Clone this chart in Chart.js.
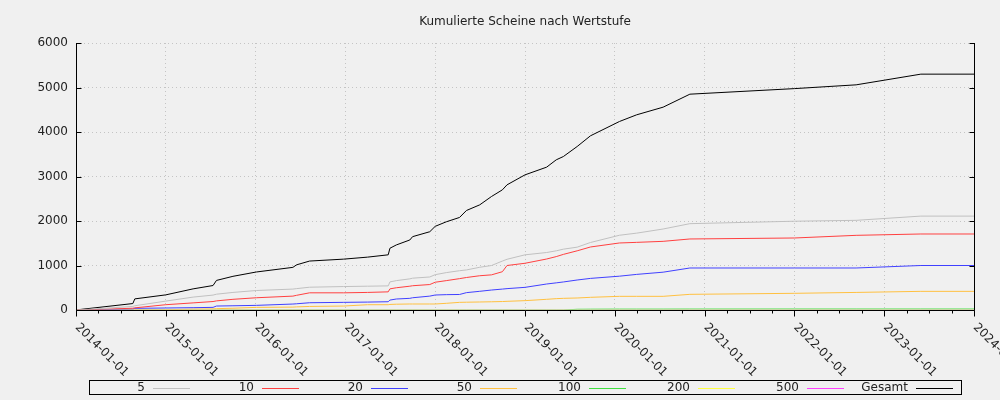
<!DOCTYPE html>
<html lang="de">
<head>
  <meta charset="UTF-8">
  <title>Kumulierte Scheine nach Wertstufe</title>
  <script src="https://cdn.jsdelivr.net/npm/chart.js"></script>
  <style>
    body {
      margin: 0;
      background: #f0f0f0;
    }
    #wrap {
      width: 1000px;
      height: 400px;
    }
  </style>
</head>
<body>
  <div id="wrap"><canvas id="chart" width="1000" height="400"></canvas></div>

  <script>
    const chartTitle = 'Kumulierte Scheine nach Wertstufe';

    // common sampling dates
    const dates = [
      '2014-01-01', '2014-01-23', '2014-08-20', '2014-08-28', '2015-01-01',
      '2015-04-22', '2015-07-12', '2015-07-26', '2015-10-01', '2016-01-04',
      '2016-06-01', '2016-06-16', '2016-08-08', '2016-12-25', '2017-04-01',
      '2017-06-24', '2017-07-01', '2017-07-27', '2017-09-20', '2017-10-01',
      '2017-12-10', '2018-01-01', '2018-02-15', '2018-04-10', '2018-05-08',
      '2018-07-01', '2018-08-18', '2018-10-01', '2018-10-20', '2019-01-01',
      '2019-03-30', '2019-05-08', '2019-06-06', '2019-08-01', '2019-09-24',
      '2020-01-20', '2020-03-30', '2020-07-16', '2020-11-02', '2022-01-01',
      '2022-09-09', '2023-05-30', '2024-01-01'
    ];

    const seriesNames = ['5', '10', '20', '50', '100', '200', '500', 'Gesamt'];
    const seriesColors = ['#c0c0c0', '#ff4040', '#4040ff', '#ffc040', '#40e040', '#ffff40', '#ff40ff', '#000000'];

    const values5 = [0, 5, 80, 95, 200, 290, 335, 355, 395, 438, 470, 480, 512, 527, 535, 542, 631, 660, 700, 715, 742, 794, 840, 883, 900, 960, 1000, 1100, 1140, 1240, 1292, 1330, 1367, 1412, 1517, 1680, 1727, 1820, 1940, 1995, 2015, 2110, 2110];
    const values10 = [0, 0, 40, 48, 119, 160, 190, 205, 240, 275, 312, 330, 386, 386, 395, 408, 475, 500, 535, 545, 572, 624, 660, 705, 730, 770, 790, 860, 1000, 1050, 1146, 1200, 1250, 1330, 1416, 1506, 1520, 1543, 1596, 1618, 1678, 1708, 1708];
    const values20 = [0, 0, 20, 37, 45, 52, 59, 89, 95, 104, 134, 140, 163, 172, 178, 186, 223, 247, 262, 275, 312, 337, 345, 349, 390, 420, 449, 470, 480, 509, 584, 610, 630, 674, 710, 760, 800, 850, 944, 944, 944, 1000, 1000];
    const values50 = [0, 0, 0, 0, 5, 20, 25, 30, 40, 59, 65, 70, 80, 89, 119, 119, 125, 130, 135, 135, 135, 135, 150, 172, 175, 180, 185, 190, 195, 210, 240, 255, 262, 270, 285, 307, 307, 307, 352, 375, 395, 419, 419];
    const values100 = [0, 0, 0, 0, 0, 0, 0, 0, 0, 0, 0, 0, 0, 0, 0, 0, 0, 0, 0, 0, 0, 0, 0, 0, 0, 0, 0, 0, 0, 0, 0, 0, 0, 16, 18, 20, 20, 20, 21, 22, 22, 22, 22];
    const values200 = [0, 0, 0, 0, 0, 0, 0, 0, 0, 0, 0, 0, 0, 0, 0, 0, 0, 0, 0, 0, 0, 0, 0, 0, 0, 0, 0, 0, 0, 0, 0, 0, 0, 0, 0, 0, 0, 0, 0, 0, 0, 0, 0];
    const values500 = [0, 0, 0, 0, 0, 0, 0, 0, 0, 0, 0, 0, 0, 0, 0, 0, 0, 0, 0, 0, 0, 0, 0, 0, 0, 0, 0, 0, 0, 0, 0, 0, 0, 0, 0, 0, 0, 0, 0, 0, 0, 0, 0];
    const valuesGesamt = [0, 15, 145, 250, 340, 475, 550, 665, 757, 854, 958, 1015, 1100, 1143, 1188, 1240, 1388, 1462, 1574, 1648, 1759, 1880, 1982, 2080, 2236, 2363, 2551, 2700, 2813, 3037, 3210, 3375, 3449, 3674, 3914, 4236, 4386, 4558, 4850, 4975, 5060, 5300, 5300];

    const allValues = [values5, values10, values20, values50, values100, values200, values500, valuesGesamt];

    const yTicks = [0, 1000, 2000, 3000, 4000, 5000, 6000];
    const xTickYears = [2014, 2015, 2016, 2017, 2018, 2019, 2020, 2021, 2022, 2023, 2024];

    // date string -> fractional year
    function toYear(s) {
      const d = new Date(s + 'T00:00:00Z');
      const y = d.getUTCFullYear();
      const start = Date.UTC(y, 0, 1), end = Date.UTC(y + 1, 0, 1);
      return y + (d - start) / (end - start);
    }

    Chart.defaults.font.family = '"DejaVu Sans", sans-serif';
    Chart.defaults.font.size = 12;
    Chart.defaults.color = '#222';

    // axes frame, ticks, rotated date labels, title and legend
    const framePlugin = {
      id: 'frame',
      afterDraw(chart) {
        const ctx = chart.ctx;
        const a = chart.chartArea;
        const xs = chart.scales.x, ys = chart.scales.y;
        const L = Math.round(a.left) + 0.5;
        const R = Math.round(a.right) + 0.5;
        const T = Math.round(a.top);
        const B = Math.round(a.bottom) + 0.5;

        ctx.save();
        ctx.strokeStyle = '#000';
        ctx.lineWidth = 1;
        ctx.beginPath();
        ctx.moveTo(L, T); ctx.lineTo(L, B); ctx.lineTo(R, B); ctx.lineTo(R, T);
        yTicks.forEach(v => {
          const y = Math.round(ys.getPixelForValue(v)) + 0.5;
          ctx.moveTo(L, y); ctx.lineTo(L + 5, y);
          ctx.moveTo(R, y); ctx.lineTo(R - 5, y);
        });
        const first = xTickYears[0] * 4, last = xTickYears[xTickYears.length - 1] * 4;
        for (let q = first; q <= last; q++) {
          const x = Math.round(xs.getPixelForValue(q / 4)) + 0.5;
          ctx.moveTo(x, B);
          ctx.lineTo(x, B + (q % 4 === 0 ? 6 : 3));
        }
        ctx.stroke();

        ctx.fillStyle = '#222';
        ctx.font = '12px "DejaVu Sans"';

        // rotated x labels
        ctx.textAlign = 'left';
        ctx.textBaseline = 'middle';
        xTickYears.forEach(yr => {
          const x = xs.getPixelForValue(yr);
          ctx.save();
          ctx.translate(x + 1, B + 15);
          ctx.rotate(Math.PI / 4);
          ctx.fillText(yr + '-01-01', 0, 0);
          ctx.restore();
        });

        // title
        ctx.textAlign = 'center';
        ctx.fillText(chartTitle, (a.left + a.right) / 2, 22);

        // legend
        const lx = 89, ly = 380, lw = 872, lh = 14;
        ctx.strokeRect(lx + 0.5, ly + 0.5, lw, lh);
        const cell = lw / seriesNames.length;
        ctx.textAlign = 'right';
        seriesNames.forEach((name, i) => {
          const cr = lx + cell * (i + 1);
          const cy = ly + 7.5;
          ctx.fillStyle = '#222';
          ctx.fillText(name, cr - 53, cy);
          ctx.strokeStyle = seriesColors[i];
          ctx.beginPath();
          ctx.moveTo(cr - 45, Math.round(cy) + 0.5);
          ctx.lineTo(cr - 8, Math.round(cy) + 0.5);
          ctx.stroke();
        });
        ctx.restore();
      }
    };

    const ctx = document.getElementById('chart').getContext('2d');
    new Chart(ctx, {
      type: 'line',
      data: {
        datasets: seriesNames.map((name, i) => ({
          label: name,
          data: dates.map((d, j) => ({ x: toYear(d), y: allValues[i][j] })),
          borderColor: seriesColors[i],
          borderWidth: 1,
          pointRadius: 0,
          tension: 0,
          fill: false,
          clip: { left: 0, top: 5, right: 0, bottom: -0.5 }
        }))
      },
      options: {
        responsive: false,
        animation: false,
        layout: { padding: { left: 0, right: 26, top: 43, bottom: 0 } },
        plugins: {
          legend: { display: false },
          title: { display: false },
          tooltip: { enabled: false }
        },
        scales: {
          x: {
            type: 'linear',
            min: xTickYears[0],
            max: xTickYears[xTickYears.length - 1],
            ticks: { display: false, stepSize: 1 },
            grid: { color: '#c4c4c4', drawTicks: false },
            border: { display: false, dash: [1, 3] },
            afterFit(scale) { scale.height = 90; }
          },
          y: {
            min: yTicks[0],
            max: yTicks[yTicks.length - 1],
            ticks: { stepSize: 1000, padding: 8, color: '#222', callback: v => String(v) },
            grid: { color: '#c4c4c4', drawTicks: false },
            border: { display: false, dash: [1, 3] },
            afterFit(scale) { scale.width = 76; }
          }
        }
      },
      plugins: [framePlugin]
    });
  </script>
</body>
</html>
